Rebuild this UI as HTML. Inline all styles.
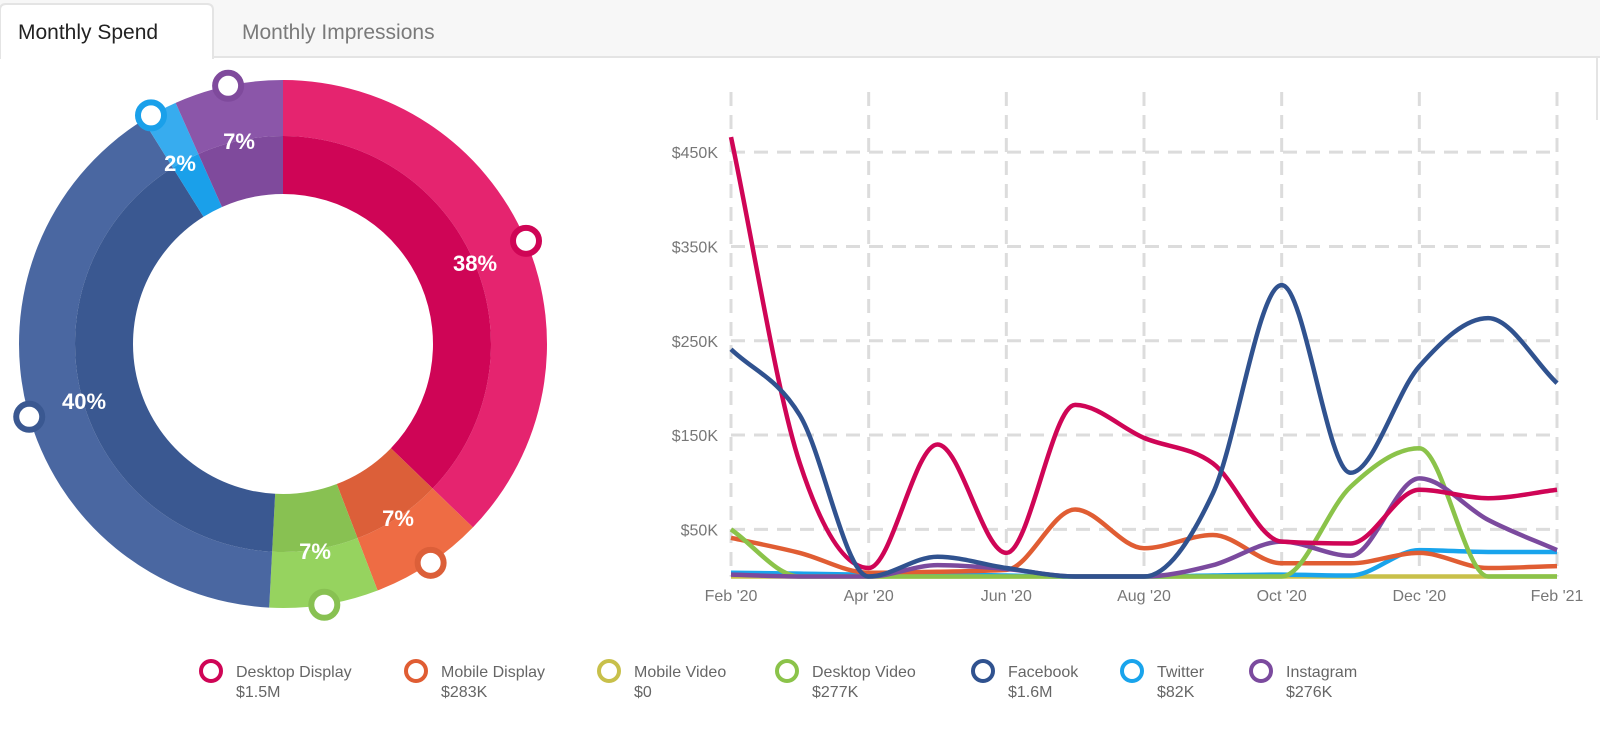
<!DOCTYPE html>
<html><head><meta charset="utf-8"><style>
body{margin:0;width:1600px;height:729px;background:#fff;overflow:hidden;font-family:"Liberation Sans",sans-serif;}
svg{position:absolute;left:0;top:0}
</style></head><body>
<svg width="1600" height="729" id="root">
  <rect x="0" y="0" width="1600" height="57" fill="#f7f7f7"/>
  <line x1="0" y1="57" x2="1600" y2="57" stroke="#e4e4e4" stroke-width="2"/>
  <path d="M0,58 L0,10 Q0,4 6,4 L207,4 Q213,4 213,10 L213,58 Z" fill="#fff" stroke="#e4e4e4" stroke-width="2"/>
  <rect x="1" y="55" width="211" height="6" fill="#fff"/>
  <text x="18" y="39" font-size="21" fill="#222">Monthly Spend</text>
  <text x="242" y="39" font-size="21" fill="#7a7a7a">Monthly Impressions</text>
  <line x1="1597" y1="57" x2="1597" y2="120" stroke="#e4e4e4" stroke-width="2"/>
  <g id="donut"></g>
  <g id="line"></g>
  <g id="legend"></g>
</svg>
<script>
const NS="http://www.w3.org/2000/svg";
// donut data
const donutNames=["Desktop Display","Mobile Display","Desktop Video","Facebook","Twitter","Instagram"];
const donutAngles=[[0,134],[134,159],[159,183],[183,328],[328,336],[336,360]];
const donutLabels=["38%","7%","7%","40%","2%","7%"];
const donutLight=["#e5246f","#ee6c44","#96d35f","#4a67a1","#37acef","#8b56a9"];
const donutDark=["#cf0556","#dc5f39","#88c152","#3a5891","#1aa0ea","#7f4a9c"];
const markerColors=["#cf0556","#dc5f39","#88c152","#3a5891","#1aa0ea","#7f4a9c"];
const markerAngles=[67,146,171,254,330,348];
const labelPos=[[475,263],[398,518],[315,551],[84,401],[180,163],[239,141]];
// line chart data (values in $K), Feb '20 .. Feb '21
const months=["Feb '20","Mar","Apr '20","May","Jun '20","Jul","Aug '20","Sep","Oct '20","Nov","Dec '20","Jan","Feb '21"];
const xTickLabels=["Feb '20","Apr '20","Jun '20","Aug '20","Oct '20","Dec '20","Feb '21"];
const yTicks=[50,150,250,350,450];
const seriesNames=["Desktop Display","Mobile Display","Mobile Video","Desktop Video","Facebook","Twitter","Instagram"];
const desktopDisplay=[466,120,9,140,25,182,147,120,37,35,92,83,92];
const mobileDisplay=[41,25,4,5,7,71,30,44,14,14,25,9,11];
const mobileVideo=[0,0,0,0,0,0,0,0,0,0,0,0,0];
const desktopVideo=[50,0,0,0,0,0,0,0,0,95,136,0,0];
const facebook=[241,171,0,21,9,0,0,88,309,110,223,274,205];
const twitter=[4,3,2,2,1,0,0,1,2,1,28,26,26];
const instagram=[2,0,0,12,8,0,0,12,37,22,104,60,28];
const seriesColors=["#cf0556","#e05d33","#c8c04a","#8bc34a","#30528f","#19a4ec","#7b4a9e"];
const legendValues=["$1.5M","$283K","$0","$277K","$1.6M","$82K","$276K"];

function el(t,a,p){const e=document.createElementNS(NS,t);for(const k in a)e.setAttribute(k,a[k]);p.appendChild(e);return e;}
// donut
const D=document.getElementById('donut');
const cx=283,cy=344,R=264,RM=208,RI=150;
function pt(r,a){const t=(a-90)*Math.PI/180;return [cx+r*Math.cos(t),cy+r*Math.sin(t)];}
function arc(r0,r1,a0,a1){const l=(a1-a0)>180?1:0;const p1=pt(r1,a0),p2=pt(r1,a1),p3=pt(r0,a1),p4=pt(r0,a0);
 return `M${p1}A${r1},${r1} 0 ${l} 1 ${p2}L${p3}A${r0},${r0} 0 ${l} 0 ${p4}Z`;}
donutAngles.forEach((g,i)=>{
  const o=el('path',{d:arc(RM,R,g[0],g[1]),fill:donutLight[i]},D);
  
  
  const n=el('path',{d:arc(RI,RM,g[0],g[1]),fill:donutDark[i]},D);
  
  
});
donutLabels.forEach((s,i)=>{
  const t=el('text',{x:labelPos[i][0],y:labelPos[i][1]+8,'text-anchor':'middle','font-size':22,'font-weight':'bold',fill:'#fff'},D);
  t.textContent=s;
  
  
});
markerAngles.forEach((a,i)=>{
  const p=pt(R,a);
  const c=el('circle',{cx:p[0],cy:p[1],r:13,fill:'#fff',stroke:markerColors[i],'stroke-width':6},D);
  
  
});
// line chart
const L=document.getElementById('line');
const x0=731,x1=1557,yb=576.5,kpp=0.943;
const xs=i=>x0+(x1-x0)*i/(months.length-1);
const ys=v=>yb-v*kpp;
for(let i=0;i<months.length;i+=2){
  const g=el('line',{x1:xs(i),x2:xs(i),y1:92,y2:yb,stroke:'#dcdcdc','stroke-width':3,'stroke-dasharray':'14,9'},L);
  
  
}
yTicks.forEach(v=>{
  const g=el('line',{x1:x0,x2:x1,y1:ys(v),y2:ys(v),stroke:'#dcdcdc','stroke-width':3,'stroke-dasharray':'14,9'},L);
  
  
  const t=el('text',{x:718,y:ys(v)+6,'text-anchor':'end','font-size':16,fill:'#777'},L);
  t.textContent='$'+v+'K';
  
  
});
xTickLabels.forEach((s,j)=>{
  const t=el('text',{x:xs(j*2),y:601,'text-anchor':'middle','font-size':16,fill:'#777'},L);
  t.textContent=s;
  
  
});
function monotonePath(P){
  const n=P.length,dx=[],m=[],t=[];
  for(let i=0;i<n-1;i++){dx[i]=P[i+1][0]-P[i][0];m[i]=(P[i+1][1]-P[i][1])/dx[i];}
  t[0]=m[0];t[n-1]=m[n-2];
  for(let i=1;i<n-1;i++){
    if(m[i-1]*m[i]<=0)t[i]=0;
    else{const h0=dx[i-1],h1=dx[i];const p=(m[i-1]*h1+m[i]*h0)/(h0+h1);
      t[i]=(Math.sign(m[i-1])+Math.sign(m[i]))*Math.min(Math.abs(m[i-1]),Math.abs(m[i]),0.5*Math.abs(p));}
  }
  let s=`M${P[0][0]},${P[0][1]}`;
  for(let i=0;i<n-1;i++){const h=dx[i]/3;
    s+=`C${P[i][0]+h},${P[i][1]+h*t[i]} ${P[i+1][0]-h},${P[i+1][1]-h*t[i+1]} ${P[i+1][0]},${P[i+1][1]}`;}
  return s;
}
const allSeries=[desktopDisplay,mobileDisplay,mobileVideo,desktopVideo,facebook,twitter,instagram];
const order=[2,5,1,3,6,0,4];
order.forEach(k=>{
  const d=allSeries[k];const P=d.map((v,i)=>[xs(i),ys(v)]);
  const p=el('path',{d:monotonePath(P),fill:'none',stroke:seriesColors[k],'stroke-width':4.5,'stroke-linejoin':'round'},L);
  
  
});
// legend
const G=document.getElementById('legend');
const legendCircleX=[211,416,609,787,983,1132,1261];
seriesNames.forEach((n,i)=>{
  const c=el('circle',{cx:legendCircleX[i],cy:671,r:10,fill:'#fff',stroke:seriesColors[i],'stroke-width':4},G);
  
  
  const t=el('text',{x:legendCircleX[i]+25,y:677,'font-size':16,fill:'#666'},G);
  t.textContent=n;
  
  
  const v=el('text',{x:legendCircleX[i]+25,y:697,'font-size':16,fill:'#666'},G);
  v.textContent=legendValues[i];
  
  
});
</script>
</body></html>
